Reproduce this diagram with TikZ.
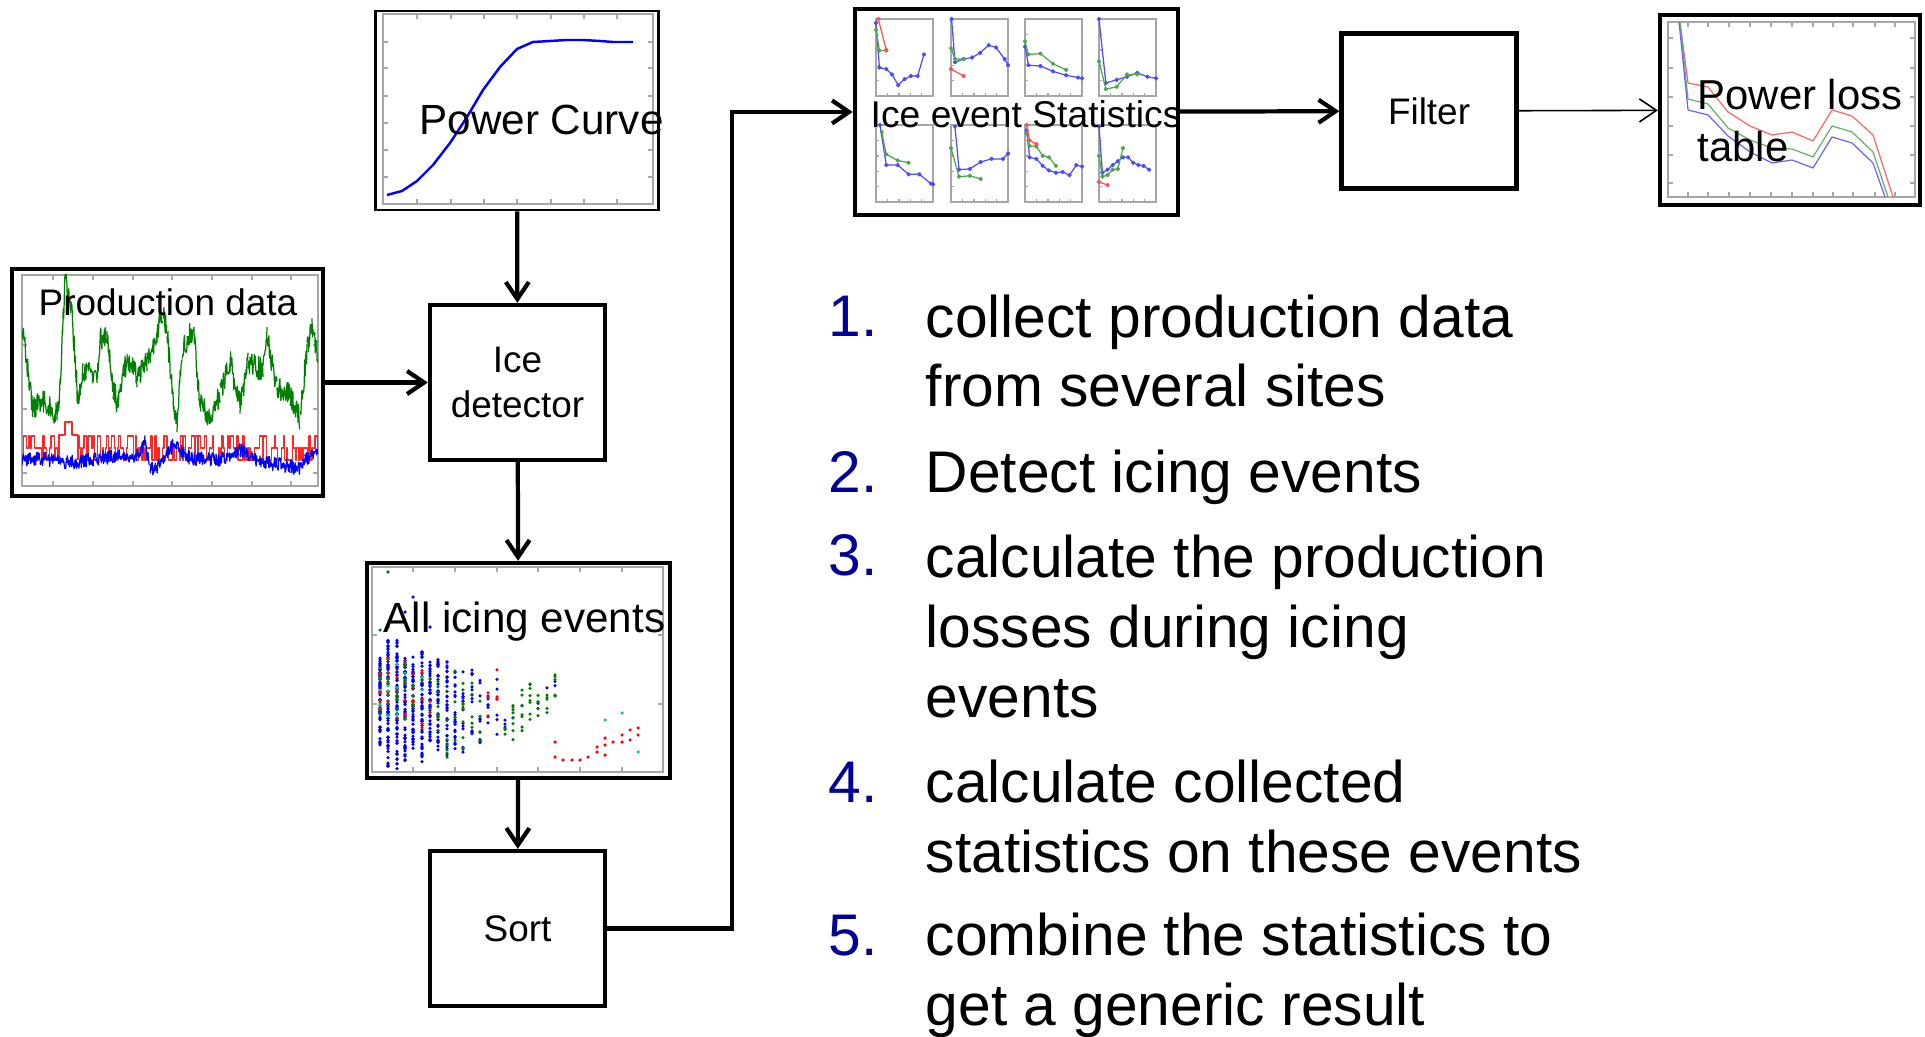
\documentclass[tikz,border=0pt]{standalone}
\usepackage{fontspec}
\setmainfont{Liberation Sans}
\usetikzlibrary{arrows.meta}
\definecolor{listblue}{RGB}{0,0,153}
\definecolor{dotgreen}{RGB}{0,128,0}
\definecolor{dotred}{RGB}{255,0,0}
\definecolor{dotcyan}{RGB}{0,191,191}

% one small panel of the statistics grid (blue, green, optional red)
\newcommand{\statpanel}[5]{%
  \begin{scope}[shift={(#1,#2)},x=0.57cm,y=-0.77cm]
    \draw[frame] (0,0) rectangle (1,1);
    \foreach \t in {0.2,0.4,0.6,0.8}{
      \draw[frame] (\t,1) -- (\t,0.96);
      \draw[frame] (0,\t) -- (0.06,\t);
    }
    \draw[sig,blue!70] plot[mark=*,mark size=0.45pt] coordinates {#3};
    \draw[sig,dotgreen!70] plot[mark=*,mark size=0.45pt] coordinates {#4};
    \if\relax\detokenize{#5}\relax\else
      \draw[sig,red!70] plot[mark=*,mark size=0.45pt] coordinates {#5};\fi
  \end{scope}}

\begin{document}
\begin{tikzpicture}[x=0.01cm,y=-0.01cm,
    >={Straight Barb[length=1.7mm,width=2.3mm]},
    flow/.style={->,line width=1.2pt},
    thinflow/.style={->,line width=0.45pt},
    stepbox/.style={draw,line width=1.2pt,inner sep=0pt,minimum width=1.75cm,
      minimum height=1.55cm,align=center,font=\fontsize{10.5}{12.8}\selectfont},
    plotbox/.style={draw,line width=1.2pt,inner sep=0pt},
    frame/.style={draw=black!35,line width=0.4pt},
    sig/.style={line width=0.35pt,line join=round},
    caption/.style={inner sep=0pt,anchor=base west},
    stepnum/.style={caption,text=listblue,font=\fontsize{16.7}{19.9}\selectfont},
    steptext/.style={caption,align=left,font=\fontsize{16.7}{19.9}\selectfont}]
  \useasboundingbox (0,0) rectangle (1925,1037);

  % boxes of the process
  \node[plotbox,line width=0.8pt,minimum width=2.83cm,minimum height=1.99cm] (curve) at (517,110.5) {};
  \node[plotbox,minimum width=3.11cm,minimum height=2.27cm] (prod) at (167.5,382.5) {};
  \node[stepbox] (detector) at (517.5,382.5) {Ice\\detector};
  \node[plotbox,minimum width=3.03cm,minimum height=2.15cm] (events) at (518.5,670.5) {};
  \node[stepbox] (sort) at (517.5,928.5) {Sort};
  \node[plotbox,minimum width=3.23cm,minimum height=2.06cm] (stats) at (1016.5,112) {};
  \node[stepbox] (filter) at (1429,111) {Filter};
  \node[plotbox,minimum width=2.6cm,minimum height=1.9cm] (loss) at (1790,110) {};

  % power curve
  \draw[frame] (383,14) rectangle (653,204);
  \foreach \t in {417,451,484,517,551,584,617}{
    \draw[frame] (\t,204) -- (\t,199); \draw[frame] (\t,14) -- (\t,19);}
  \foreach \t in {42,68,96,123,150,177}{
    \draw[frame] (383,\t) -- (388,\t); \draw[frame] (653,\t) -- (648,\t);}
  \draw[blue,line width=0.7pt,line join=round] plot coordinates {(387,195) (402,191)
    (417,181) (433,165) (450,143) (467,117) (483,90) (500,67) (517,49) (533,42)
    (550,41) (567,40) (583,40) (600,41) (613,42) (633,42)};

  % production data
  \draw[frame] (22,275) rectangle (318,486);
  \foreach \t in {53,93,133,172,212,252,291}{
    \draw[frame] (\t,486) -- (\t,481); \draw[frame] (\t,275) -- (\t,280);}
  \foreach \t in {345,409,473}{
    \draw[frame] (22,\t) -- (27,\t); \draw[frame] (318,\t) -- (313,\t);}
  \begin{scope}
    \clip (22,275) rectangle (318,486);
    \pgfmathsetseed{3}
    \foreach \xb/\yb [remember=\xb as \xa (initially 22),remember=\yb as \ya (initially 327)]
      in {33/410,43/400,57/415,60/387,65/280,72/310,78/403,83/372,97/375,100/340,
          107/333,113/387,117/403,127/360,137/377,147/363,157/333,163/313,167/330,
          173/400,177/423,182/353,193/327,200/400,210/417,220/393,230/360,240/407,
          248/363,263/370,267/337,277/387,290/393,300/420,307/347,312/323,318/357}{
      \pgfmathtruncatemacro\ns{2*(\xb-\xa)+2}
      \draw[sig,dotgreen] plot[domain=\xa:\xb,samples=\ns]
        (\x,{\ya+(\yb-\ya)*(\x-\xa)/(\xb-\xa)+12*rand});
    }
    \draw[sig,red!85,const plot] plot[domain=22:59,samples=24] (\x,{448+12*round(1.4*rand)});
    \draw[sig,red!85] (59,448) -- (59,435) -- (65,435) -- (65,422) -- (72,422)
      -- (72,435) -- (78,435) -- (78,460);
    \draw[sig,red!85,const plot] plot[domain=78:318,samples=160] (\x,{448+12*round(1.4*rand)});
    \foreach \xb/\yb [remember=\xb as \xa (initially 22),remember=\yb as \ya (initially 460)]
      in {40/458,60/462,78/462,100/458,140/455,145/440,150/470,160/466,173/445,
          190/458,220/460,240/450,260/462,290/466,298/470,305/458,318/455}{
      \pgfmathtruncatemacro\ns{2*(\xb-\xa)+2}
      \draw[sig,blue] plot[domain=\xa:\xb,samples=\ns]
        (\x,{\ya+(\yb-\ya)*(\x-\xa)/(\xb-\xa)+7*rand});
    }
  \end{scope}

  % all icing events, scatter of columns
  \draw[frame] (372,567) rectangle (663,772);
  \foreach \t in {413,455,497,538,580,622}{
    \draw[frame] (\t,772) -- (\t,767); \draw[frame] (\t,567) -- (\t,572);}
  \foreach \t in {635,704}{
    \draw[frame] (372,\t) -- (377,\t); \draw[frame] (663,\t) -- (658,\t);}
  \pgfmathsetseed{11}
  \pgfmathdeclarerandomlist{bluecol}{{blue}}
  \pgfmathdeclarerandomlist{mixcol}{{blue}{dotgreen}{dotred}{dotcyan}{dotgreen}{dotred}}
  \pgfmathdeclarerandomlist{greencol}{{dotgreen}{dotgreen}{dotgreen}{blue}}
  \pgfmathdeclarerandomlist{redcol}{{dotred}{dotred}{blue}}
  \foreach \cx/\ya/\yb/\n/\lst in {
      380/657/747/60/bluecol,388/640/767/64/bluecol,397/640/770/64/bluecol,
      405/657/763/60/bluecol,413/657/750/54/bluecol,422/650/763/50/bluecol,
      430/650/743/40/bluecol,438/657/750/36/bluecol,447/657/760/26/bluecol,
      455/667/750/18/bluecol,463/658/753/14/bluecol,472/663/737/9/bluecol,
      480/663/743/9/bluecol,488/700/733/5/bluecol,497/712/737/3/bluecol,
      505/712/730/3/bluecol,
      380/657/720/26/mixcol,388/657/720/22/mixcol,397/660/720/20/mixcol,
      405/660/720/18/mixcol,413/670/720/10/mixcol,422/660/730/10/mixcol,
      430/665/730/8/mixcol,438/680/740/10/greencol,447/670/760/14/greencol,
      455/670/750/10/greencol,463/680/755/10/greencol,472/680/740/9/greencol,
      480/700/745/7/greencol,488/690/720/5/redcol,497/665/700/6/redcol,
      505/722/735/3/greencol,513/690/743/9/greencol,522/690/732/8/greencol,
      530/678/723/8/greencol,538/678/720/7/greencol,547/683/713/6/greencol,
      555/662/713/8/greencol}{
    \foreach \k in {1,...,\n}{
      \pgfmathrandomitem{\dc}{\lst}
      \fill[fill=\dc] (\cx,{\ya+rnd*(\yb-\ya)}) circle (0.5pt);
    }
  }
  \foreach \p in {(555,742),(555,757),(563,760),(572,760),(580,760),(588,757),
      (597,752),(597,747),(605,745),(605,738),(613,742),(622,735),(622,742),
      (630,730),(630,740),(638,728),(638,735),(605,755)}
    \fill[dotred] \p circle (0.5pt);
  \foreach \p in {(605,720),(622,713),(638,752)}
    \fill[dotcyan] \p circle (0.5pt);
  \fill[dotgreen] (388,572) circle (0.5pt) (380,630) circle (0.5pt);
  \fill[blue] (413,597) circle (0.5pt) (405,612) circle (0.5pt)
    (388,627) circle (0.5pt) (430,627) circle (0.5pt);

  % ice event statistics, eight small panels
  \statpanel{876}{19}{(0,0.05) (0.06,0.63) (0.18,0.65) (0.28,0.72) (0.39,0.86) (0.5,0.78) (0.61,0.74) (0.73,0.74) (0.84,0.46)}
    {(0,0.14) (0.06,0.41) (0.18,0.41)}{(0.04,0) (0.18,0.40)}
  \statpanel{951}{19}{(0.01,0) (0.07,0.56) (0.22,0.52) (0.37,0.5) (0.51,0.44) (0.66,0.34) (0.79,0.37) (0.94,0.52) (1,0.6)}
    {(0,0.38) (0.07,0.52) (0.22,0.52)}{(0,0.65) (0.22,0.74)}
  \statpanel{1025}{19}{(0,0.36) (0.06,0.6) (0.27,0.61) (0.49,0.68) (0.72,0.73) (0.93,0.76) (1,0.77)}
    {(0,0.29) (0.06,0.46) (0.27,0.45) (0.49,0.58) (0.72,0.66)}{}
  \statpanel{1099}{19}{(0,0) (0.12,0.83) (0.31,0.79) (0.49,0.75) (0.67,0.7) (0.85,0.75) (1,0.77)}
    {(0,0.55) (0.12,0.91) (0.31,0.88) (0.49,0.72) (0.67,0.72)}{}
  \statpanel{876}{125}{(0.07,0) (0.18,0.52) (0.38,0.52) (0.57,0.64) (0.76,0.64) (0.96,0.76) (1,0.77)}
    {(0.1,0.09) (0.18,0.38) (0.38,0.46) (0.57,0.49)}{}
  \statpanel{951}{125}{(0.07,0.02) (0.14,0.58) (0.33,0.57) (0.52,0.48) (0.71,0.44) (0.91,0.44) (1,0.37)}
    {(0,0.3) (0.14,0.67) (0.33,0.66) (0.52,0.7)}{}
  \statpanel{1025}{125}{(0.03,0.07) (0.08,0.42) (0.2,0.44) (0.31,0.53) (0.42,0.59) (0.54,0.62) (0.66,0.61) (0.78,0.65) (0.9,0.52) (1,0.54)}
    {(0.03,0.11) (0.08,0.27) (0.2,0.28) (0.31,0.4) (0.42,0.42) (0.54,0.53)}{(0.03,0) (0.08,0.2) (0.2,0.25)}
  \statpanel{1099}{125}{(0,0.02) (0.06,0.62) (0.15,0.58) (0.24,0.52) (0.33,0.47) (0.42,0.42) (0.51,0.42) (0.6,0.49) (0.69,0.52) (0.78,0.53) (0.88,0.58)}
    {(0,0.4) (0.06,0.67) (0.15,0.65) (0.24,0.58) (0.33,0.57) (0.42,0.3)}{(0,0.74) (0.15,0.78)}

  % power loss table
  \draw[frame] (1668,22) rectangle (1915,197);
  \foreach \t in {1688,1708,1729,1750,1771,1792,1813,1833,1853,1875,1895}{
    \draw[frame] (\t,22) -- (\t,27); \draw[frame] (\t,197) -- (\t,192);}
  \foreach \t in {38,68,97,126,155,183}{
    \draw[frame] (1668,\t) -- (1673,\t); \draw[frame] (1915,\t) -- (1910,\t);}
  \begin{scope}
    \clip (1668,22) rectangle (1915,197);
    \draw[sig,red!60] plot coordinates {(1680,22) (1688,83) (1708,87) (1728,112)
      (1750,126) (1772,135) (1792,132) (1813,141) (1832,110) (1852,116) (1873,135) (1893,197)};
    \draw[sig,dotgreen!60] plot coordinates {(1680,22) (1688,99) (1708,104) (1728,128)
      (1750,140) (1772,148) (1792,149) (1813,157) (1832,126) (1852,132) (1873,152) (1888,197)};
    \draw[sig,blue!60] plot coordinates {(1679,22) (1688,110) (1708,115) (1728,136)
      (1750,152) (1772,163) (1792,160) (1813,168) (1832,137) (1852,143) (1873,163) (1885,197)};
  \end{scope}

  % captions over the plots (base anchor sits on the last line)
  \node[caption,font=\fontsize{12}{14}\selectfont] (curve-label) at (419,135) {Power Curve};
  \node[caption,anchor=base,font=\fontsize{10.5}{12.8}\selectfont] (prod-label) at (168,316) {Production data};
  \node[caption,font=\fontsize{12}{14}\selectfont] (events-label) at (383,633) {All icing events};
  \node[caption,font=\fontsize{10.6}{12.5}\selectfont] (stats-label) at (870,128) {Ice event Statistics};
  \node[caption,align=left,font=\fontsize{11.9}{14.8}\selectfont] (loss-label) at (1697,162) {Power loss\\table};

  % connectors
  \coordinate (bend) at (732,500);
  \draw[flow] (curve) -- (detector);
  \draw[flow] (prod) -- (detector);
  \draw[flow] (detector) -- (events);
  \draw[flow] (events) -- (sort);
  \draw[flow] (sort.east) -| (bend) |- (stats.west);
  \draw[flow] (stats) -- (filter);
  \draw[thinflow] (filter) -- (loss);

  % numbered steps: number on the first line, text placed by its last line
  \foreach \y/\ylast/\n/\txt in {337/407/1/{collect production data\\from several sites},
      492/492/2/{Detect icing events},
      575/717/3/{calculate the production\\losses during icing\\events},
      802/872/4/{calculate collected\\statistics on these events},
      955/1025/5/{combine the statistics to\\get a generic result}}{
    \node[stepnum] (num\n) at (828,\y) {\n.};
    \node[steptext] (step\n) at (925,\ylast) {\txt};
  }
\end{tikzpicture}
\end{document}
